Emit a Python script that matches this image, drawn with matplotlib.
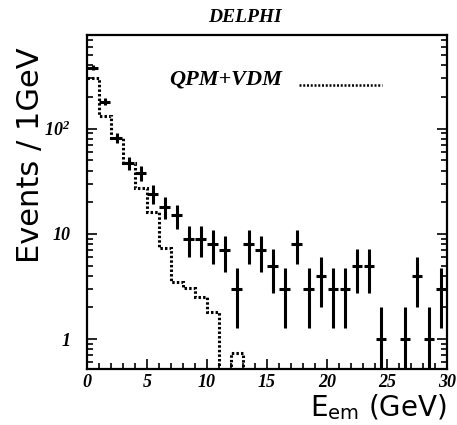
import matplotlib
matplotlib.use("Agg")
import matplotlib.pyplot as plt
import numpy as np
from matplotlib.font_manager import FontProperties
from matplotlib.ticker import FixedLocator, FixedFormatter, MultipleLocator, LogLocator, NullFormatter

# data points (1 GeV bins), events per bin
bin_centres = np.arange(0.5, 30, 1.0)
events = [380, 181, 82, 47, 38, 24, 18, 15, 9, 9, 8, 7, 3, 8, 7,
          5, 3, 8, 3, 4, 3, 3, 5, 5, 1, 0, 1, 4, 1, 3]

# QPM+VDM prediction (dotted histogram)
mc_edges = np.arange(0, 31, 1.0)
mc_values = [305, 133, 82, 47, 27.5, 16.2, 7.4, 3.5, 3.06, 2.5, 1.81, 0, 0.74, 0, 0,
             0, 0, 0, 0, 0, 0, 0, 0, 0, 0, 0, 0, 0, 0, 0]

plt.rcParams["mathtext.fontset"] = "custom"
plt.rcParams["mathtext.rm"] = "Liberation Serif:bold:italic"
plt.rcParams["mathtext.it"] = "Liberation Serif:bold:italic"

serif_bi = dict(family="Liberation Serif", style="italic", weight="bold")

fig = plt.figure(figsize=(4.57, 4.25), dpi=100)
ax = fig.add_axes((0.190, 0.132, 0.788, 0.786))

# MC histogram, zero bins pushed below the axis
mc = np.where(np.array(mc_values) > 0, mc_values, 1e-3)
ax.stairs(mc, mc_edges, baseline=None, color="black", lw=2.2,
          linestyle=(0, (0.8, 0.7)))

# data with sqrt(N) errors
ev = np.array(events, dtype=float)
mask = ev > 0
err_hi = np.sqrt(ev[mask])
err_lo = np.minimum(err_hi, ev[mask] - 1e-3)
ax.errorbar(bin_centres[mask], ev[mask], xerr=0.45, yerr=[err_lo, err_hi],
            fmt="none", ecolor="black", elinewidth=2.2, capsize=0)

ax.set_yscale("log")
ax.set_xlim(0, 30)
ax.set_ylim(0.52, 780)

ax.xaxis.set_major_locator(MultipleLocator(5))
ax.xaxis.set_minor_locator(MultipleLocator(1))
ax.yaxis.set_major_locator(FixedLocator([1, 10, 100]))
ax.yaxis.set_major_formatter(FixedFormatter(["1", "10", "$\\mathrm{10^{2}}$"]))
ax.yaxis.set_minor_locator(LogLocator(base=10, subs=np.arange(2, 10)))
ax.yaxis.set_minor_formatter(NullFormatter())

ax.tick_params(which="both", direction="in", right=True, top=False, width=1.2)
ax.tick_params(which="major", length=7)
ax.tick_params(which="minor", length=4)
ax.tick_params(axis="x", pad=4)
ax.tick_params(axis="y", pad=12)
for lab in ax.get_xticklabels() + ax.get_yticklabels():
    lab.set_fontproperties(FontProperties(**serif_bi, size=13))

for sp in ax.spines.values():
    sp.set_linewidth(1.6)

ax.set_ylabel("Events / 1GeV", fontsize=22, family="DejaVu Sans")
ax.yaxis.set_label_coords(-0.115, 0.64)
fig.text(0.978, 0.008, "E$_{\\mathsf{em}}$ (GeV)", ha="right", va="bottom",
         fontsize=20, family="DejaVu Sans")

fig.text(0.535, 0.958, "DELPHI", ha="center", va="center", fontsize=14, **serif_bi)
ax.text(0.23, 0.865, "QPM+VDM", transform=ax.transAxes, ha="left", va="center",
        fontsize=16, **serif_bi)
ax.plot([0.59, 0.82], [0.85, 0.85], transform=ax.transAxes, color="black",
        lw=1.8, linestyle=(0, (0.8, 0.7)))

fig.savefig("out.png", dpi=100)
